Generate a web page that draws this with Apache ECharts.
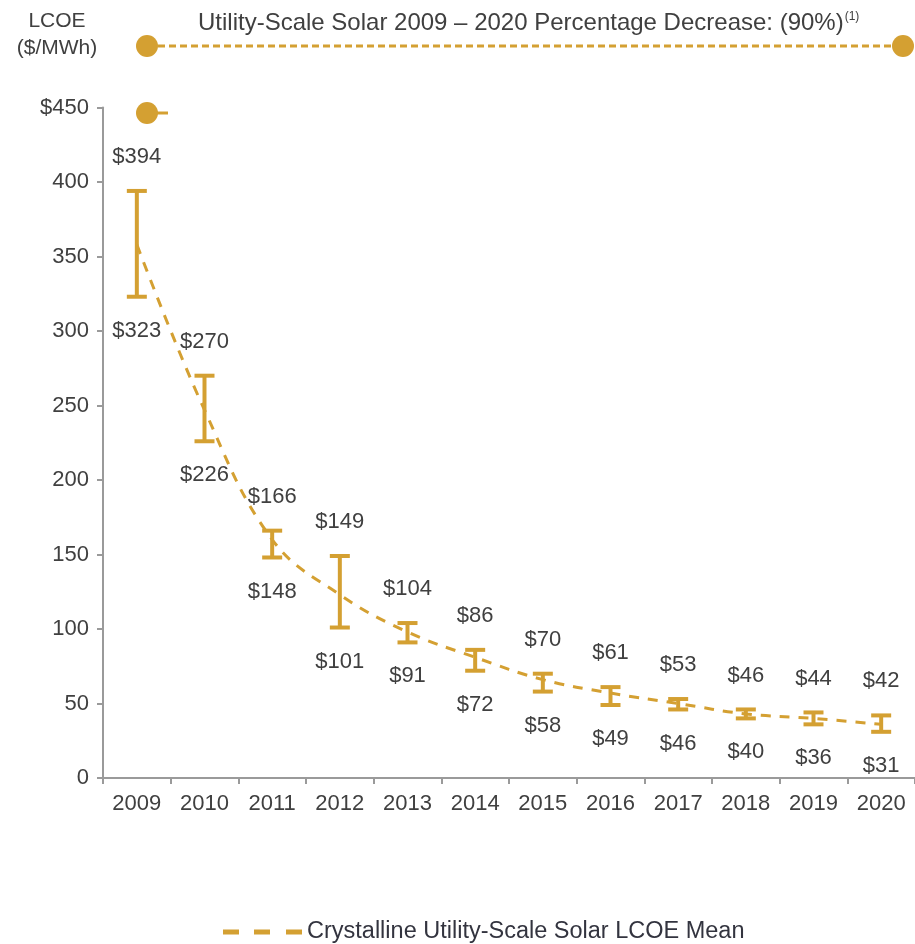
<!DOCTYPE html>
<html>
<head>
<meta charset="utf-8">
<script src="https://cdn.jsdelivr.net/npm/echarts@6/dist/echarts.min.js"></script>
<style>
html,body{margin:0;padding:0;background:#fff;}
#chart{width:915px;height:944px;}
</style>
</head>
<body>
<div id="chart"></div>
<script>
var years = ['2009','2010','2011','2012','2013','2014','2015','2016','2017','2018','2019','2020'];
var lowValues  = [323, 226, 148, 101, 91, 72, 58, 49, 46, 40, 36, 31];
var highValues = [394, 270, 166, 149, 104, 86, 70, 61, 53, 46, 44, 42];
var meanValues = [358, 247, 160, 123, 98, 81, 66, 57, 50, 43, 40, 36];
var yTicks = [0, 50, 100, 150, 200, 250, 300, 350, 400, 450];
var titleText = 'Utility-Scale Solar 2009 \u2013 2020 Percentage Decrease: (90%)';
var seriesName = 'Crystalline Utility-Scale Solar LCOE Mean';

var gold = '#D4A032';
var textColor = '#404040';
var FONT = "'Liberation Sans', Arial, sans-serif";
var FS = 22;

var rangeData = years.map(function (y, i) { return [i, lowValues[i], highValues[i]]; });

var chart = echarts.init(document.getElementById('chart'), null, {renderer: 'canvas'});
chart.setOption({
  backgroundColor: '#ffffff',
  animation: false,
  textStyle: {fontFamily: FONT},
  grid: {left: 103, right: 0, top: 107.5, bottom: 166, containLabel: false},
  legend: {
    top: 915,
    left: 218,
    itemWidth: 79,
    itemHeight: 5,
    itemGap: 9,
    data: [{name: seriesName, icon: 'path://M0,0h16v5h-16zM31,0h16v5h-16zM63,0h16v5h-16z'}],
    itemStyle: {color: gold, opacity: 1},
    textStyle: {color: '#33343f', fontSize: 23.5, fontFamily: FONT}
  },
  xAxis: {
    type: 'category',
    data: years,
    boundaryGap: true,
    axisLine: {lineStyle: {color: '#9a9a9a', width: 2}},
    axisTick: {show: true, length: 6, lineStyle: {color: '#9a9a9a', width: 2}},
    axisLabel: {color: textColor, fontSize: FS, fontFamily: FONT, margin: 15}
  },
  yAxis: {
    type: 'value',
    min: 0,
    max: 450,
    interval: 50,
    splitLine: {show: false},
    axisLine: {show: true, lineStyle: {color: '#9a9a9a', width: 2}},
    axisTick: {show: true, length: 6, lineStyle: {color: '#9a9a9a', width: 2}},
    axisLabel: {
      color: textColor, fontSize: FS, fontFamily: FONT, margin: 14,
      formatter: function (v) { return v === yTicks[yTicks.length - 1] ? '$' + v : String(v); }
    }
  },
  graphic: [
    {type: 'text', x: 57, y: 21, style: {text: 'LCOE', fill: textColor, font: '21px ' + FONT, align: 'center', verticalAlign: 'middle'}},
    {type: 'text', x: 57, y: 48, style: {text: '($/MWh)', fill: textColor, font: '21px ' + FONT, align: 'center', verticalAlign: 'middle'}},
    {type: 'text', x: 198, y: 23, style: {
      text: '{a|' + titleText + '}{s|(1)}',
      fill: textColor,
      verticalAlign: 'middle', align: 'left',
      rich: {
        a: {fontSize: 24, fontFamily: FONT, fill: textColor},
        s: {fontSize: 12, fontFamily: FONT, fill: textColor, verticalAlign: 'top', padding: [0, 0, 12, 1]}
      }
    }},
    {type: 'line', shape: {x1: 147, y1: 46, x2: 903, y2: 46}, style: {stroke: gold, lineWidth: 3, lineDash: [7, 4]}},
    {type: 'circle', shape: {cx: 147, cy: 46, r: 11}, style: {fill: gold}},
    {type: 'circle', shape: {cx: 903, cy: 46, r: 11}, style: {fill: gold}},
    {type: 'line', shape: {x1: 147, y1: 113, x2: 168, y2: 113}, style: {stroke: gold, lineWidth: 3}},
    {type: 'circle', shape: {cx: 147, cy: 113, r: 11}, style: {fill: gold}}
  ],
  series: [
    {
      name: seriesName,
      type: 'line',
      data: meanValues,
      smooth: 0.4,
      symbol: 'none',
      showSymbol: false,
      lineStyle: {color: gold, width: 3, type: [10, 9]},
      itemStyle: {color: gold},
      z: 2
    },
    {
      name: 'range',
      type: 'custom',
      data: rangeData,
      z: 3,
      encode: {x: 0, y: [1, 2]},
      renderItem: function (params, api) {
        var idx = api.value(0);
        var lo = api.coord([idx, api.value(1)]);
        var hi = api.coord([idx, api.value(2)]);
        var hw = 10;
        var st = {stroke: gold, lineWidth: 4};
        return {
          type: 'group',
          children: [
            {type: 'line', shape: {x1: hi[0], y1: hi[1], x2: lo[0], y2: lo[1]}, style: st},
            {type: 'line', shape: {x1: hi[0] - hw, y1: hi[1], x2: hi[0] + hw, y2: hi[1]}, style: st},
            {type: 'line', shape: {x1: lo[0] - hw, y1: lo[1], x2: lo[0] + hw, y2: lo[1]}, style: st},
            {type: 'text', x: hi[0], y: hi[1] - 34, style: {text: '$' + api.value(2), fill: textColor, font: FS + 'px ' + FONT, align: 'center', verticalAlign: 'middle'}},
            {type: 'text', x: lo[0], y: lo[1] + 34, style: {text: '$' + api.value(1), fill: textColor, font: FS + 'px ' + FONT, align: 'center', verticalAlign: 'middle'}}
          ]
        };
      }
    }
  ]
});
</script>
</body>
</html>
